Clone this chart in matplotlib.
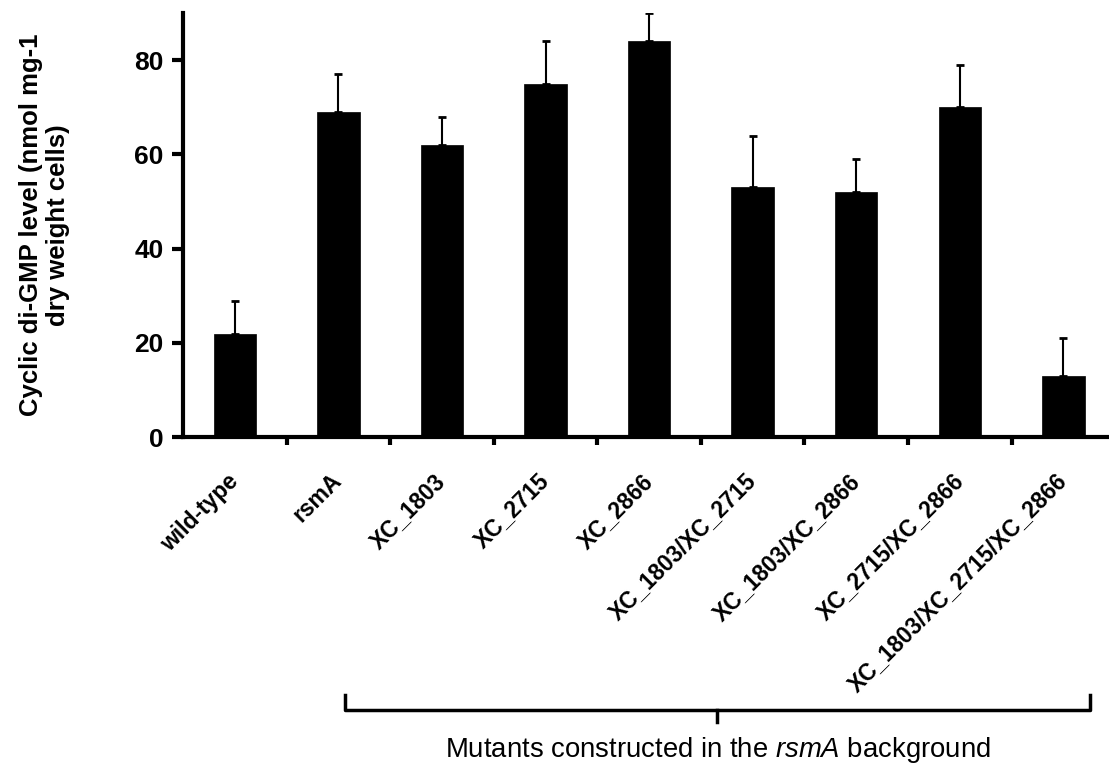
import matplotlib
matplotlib.use("Agg")
import matplotlib.pyplot as plt
from matplotlib.lines import Line2D
import numpy as np

# cyclic di-GMP levels per strain (mean and upper error)
strains = [
    "wild-type",
    "rsmA",
    "XC_1803",
    "XC_2715",
    "XC_2866",
    "XC_1803/XC_2715",
    "XC_1803/XC_2866",
    "XC_2715/XC_2866",
    "XC_1803/XC_2715/XC_2866",
]
levels = [22, 69, 62, 75, 84, 53, 52, 70, 13]
errors = [7, 8, 6, 9, 6, 11, 7, 9, 8]

plt.rcParams["font.family"] = ["Liberation Sans", "DejaVu Sans"]
plt.rcParams["mathtext.fontset"] = "custom"
plt.rcParams["mathtext.rm"] = "Liberation Sans"
plt.rcParams["mathtext.it"] = "Liberation Sans:italic"

fig = plt.figure(figsize=(11.09, 7.67), dpi=100)
ax = fig.add_axes([0.165, 0.430, 0.835, 0.553])

x = np.arange(len(strains))
ax.bar(x, levels, width=0.41, color="black", edgecolor="black", linewidth=0.5, zorder=2)
ax.errorbar(x, levels, yerr=[np.zeros(len(errors)), errors], fmt="none",
            ecolor="black", elinewidth=1.5, capsize=3, capthick=2, zorder=1)

ax.set_xlim(-0.5, 8.44)
ax.set_ylim(0, 90)
ax.set_yticks([0, 20, 40, 60, 80])

# ticks sit between bars, labels sit under each bar
ax.set_xticks(np.arange(len(strains) - 1) + 0.5)
ax.set_xticklabels([])
ax.tick_params(axis="x", direction="out", length=6, width=3)
ax.tick_params(axis="y", direction="out", length=8, width=3, labelsize=19, pad=6)
for lbl in ax.get_yticklabels():
    lbl.set_fontweight("bold")

for xi, name in zip(x, strains):
    ax.annotate(name, xy=(xi, 0), xycoords=("data", "axes fraction"),
                xytext=(0, -29), textcoords="offset points",
                rotation=45, rotation_mode="anchor", ha="right", va="center",
                fontsize=16.5, fontweight="bold")

for side in ("top", "right"):
    ax.spines[side].set_visible(False)
for side in ("left", "bottom"):
    ax.spines[side].set_linewidth(3)

fig.text(0.040, 0.707, "Cyclic di-GMP level (nmol mg-1\ndry weight cells)",
         rotation=90, ha="center", va="center", multialignment="center",
         fontsize=18.5, fontweight="bold", linespacing=1.15)

# bracket grouping the rsmA-background mutants
bx0, bx1, bxm = 0.311, 0.983, 0.6465
by, by_end, by_mid = 0.0743, 0.0939, 0.0587
fig.add_artist(Line2D([bx0, bx0, bx1, bx1], [by_end, by, by, by_end],
                      color="black", linewidth=2.5, transform=fig.transFigure))
fig.add_artist(Line2D([bxm, bxm], [by, by_mid], color="black",
                      linewidth=2.5, transform=fig.transFigure))
fig.text(0.6475, 0.0125, r"Mutants constructed in the $\it{rsmA}$ background",
         ha="center", va="baseline", fontsize=19.8)

fig.savefig("out.png", dpi=100)
